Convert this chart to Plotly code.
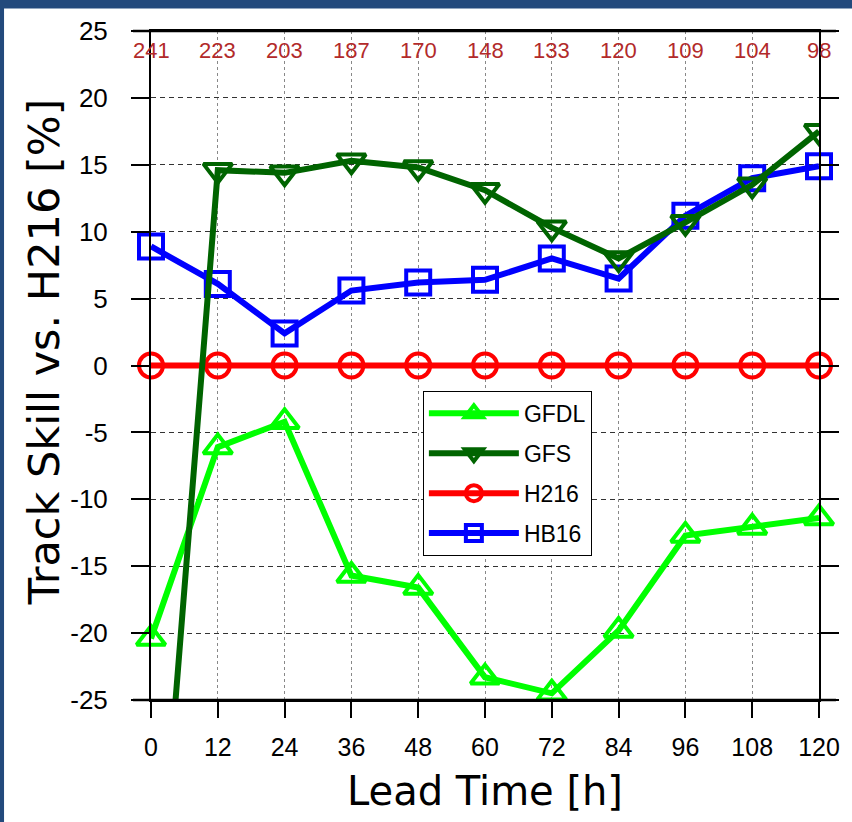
import plotly.graph_objects as go

lead_hours = [0, 12, 24, 36, 48, 60, 72, 84, 96, 108, 120]
case_counts = ["241", "223", "203", "187", "170", "148", "133", "120", "109", "104", "98"]

gfdl = [-20.4, -6.1, -4.2, -15.7, -16.6, -23.3, -24.5, -19.8, -12.7, -12.1, -11.4]
gfs = [-48.0, 14.6, 14.4, 15.3, 14.8, 13.1, 10.3, 8.0, 10.7, 13.5, 17.5]
h216 = [0, 0, 0, 0, 0, 0, 0, 0, 0, 0, 0]
hb16 = [8.9, 6.1, 2.4, 5.6, 6.2, 6.4, 8.0, 6.5, 11.2, 14.0, 14.9]

y_ticks = [-25, -20, -15, -10, -5, 0, 5, 10, 15, 20, 25]

NARROW = "Liberation Sans Narrow, Arial Narrow, Liberation Sans, Arial, sans-serif"
TITLE_FONT = "DejaVu Sans, Verdana, sans-serif"

fig = go.Figure()

def add_series(name, y, color, symbol, size, rank, clip):
    fig.add_trace(go.Scatter(
        x=lead_hours, y=y, name=name, mode="lines+markers",
        line=dict(color=color, width=6),
        marker=dict(symbol=symbol, size=size, color=color,
                    line=dict(color=color, width=4)),
        cliponaxis=clip, legendrank=rank, legendgroup=name,
    ))

add_series("GFDL", gfdl, "#00ff00", "triangle-up-open", 25, 1, False)
add_series("H216", h216, "#ff0000", "circle-open", 24, 3, False)
add_series("HB16", hb16, "#0000ff", "square-open", 24, 4, False)
add_series("GFS", gfs, "#006400", "triangle-down-open", 25, 2, True)

for h, c in zip(lead_hours, case_counts):
    fig.add_annotation(x=h, y=0.971, xref="x", yref="paper", text=c,
                       showarrow=False, font=dict(family=NARROW, size=22, color="#b22a2a"),
                       xanchor="center", yanchor="middle")

# axis titles
fig.add_annotation(x=-0.16, y=0.52, xref="paper", yref="paper", text="Track Skill vs. H216 [%]",
                   textangle=-90, showarrow=False, font=dict(family=TITLE_FONT, size=43, color="black"),
                   xanchor="center", yanchor="middle")
fig.add_annotation(x=0.5, y=-0.136, xref="paper", yref="paper", text="Lead Time [h]",
                   showarrow=False, font=dict(family=TITLE_FONT, size=40, color="black"),
                   xanchor="center", yanchor="middle")

# page frame: navy background, white card
fig.add_shape(type="rect", xref="paper", yref="paper", x0=-0.22, x1=1.1, y0=-0.3, y1=1.0336,
              fillcolor="white", line=dict(width=0), layer="below")
# extended top/bottom frame lines
for yy in (0, 1):
    fig.add_shape(type="line", xref="paper", yref="paper", x0=-0.027, x1=1.0254, y0=yy, y1=yy,
                  line=dict(color="black", width=2.5))

fig.update_layout(
    width=852, height=822,
    margin=dict(l=151, r=33, t=31, b=122),
    paper_bgcolor="#234a7c", plot_bgcolor="white",
    showlegend=True,
    legend=dict(x=0.407, y=0.462, xanchor="left", yanchor="top",
                bgcolor="white", bordercolor="black", borderwidth=1,
                font=dict(family="Liberation Sans, Arial, sans-serif", size=23, color="black"),
                itemwidth=90, tracegroupgap=7, traceorder="grouped"),
    xaxis=dict(range=[0, 120], tickvals=lead_hours, ticktext=[str(h) for h in lead_hours],
               showgrid=True, gridcolor="#888888", griddash="3px,3px", gridwidth=1,
               showline=True, linecolor="black", linewidth=2, mirror=True,
               ticks="outside", ticklen=16, tickwidth=2, tickcolor="black",
               tickfont=dict(family=NARROW, size=25, color="black"),
               ticklabelstandoff=8, zeroline=False),
    yaxis=dict(range=[-25, 25], tickvals=y_ticks, ticktext=[str(v) for v in y_ticks],
               showgrid=True, gridcolor="#333333", griddash="5px,4px", gridwidth=1,
               showline=True, linecolor="black", linewidth=2, mirror="ticks",
               ticks="outside", ticklen=18, tickwidth=2, tickcolor="black",
               tickfont=dict(family=NARROW, size=26, color="black"),
               ticklabelstandoff=18, zeroline=False),
)

fig.write_html("out.html")
